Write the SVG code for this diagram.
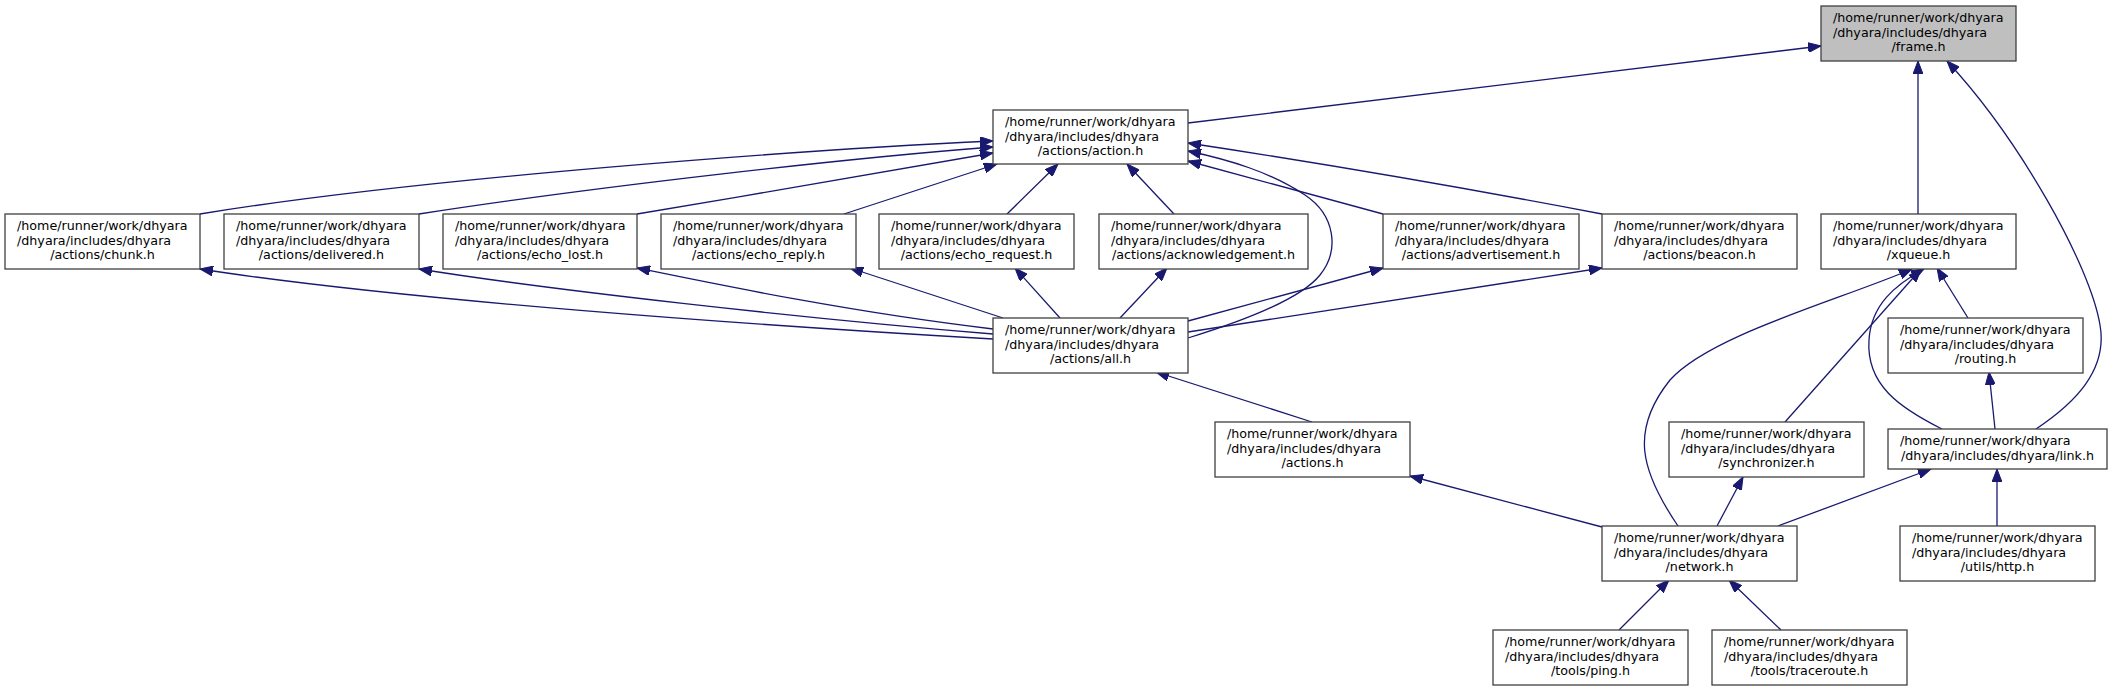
<svg xmlns="http://www.w3.org/2000/svg" width="2112" height="691" viewBox="0 0 2112 691">
<style>
.n rect{fill:#ffffff;stroke:#404040;stroke-width:1.3}
.g rect{fill:#bfbfbf;stroke:#404040;stroke-width:1.3}
text{font-family:"DejaVu Sans",sans-serif;font-size:12.7px;fill:#000000}
.m{text-anchor:middle}
#edges path{fill:none;stroke:#191970;stroke-width:1.3;marker-end:url(#ah)}
</style>
<defs>
<marker id="ah" markerUnits="userSpaceOnUse" markerWidth="14" markerHeight="10" refX="13" refY="5" orient="auto">
<path d="M0,0 L13,5 L0,10 z" fill="#191970" stroke="#191970" stroke-width="1"/>
</marker>
</defs>
<rect width="2112" height="691" fill="#ffffff"/>
<g id="edges">
<path d="M1188,123 L1821,46"/>
<path d="M1918,214 L1918,61"/>
<path d="M2036,429 C2075,403 2108,370 2100,325 C2090,265 2020,140 1947,61"/>
<path d="M200,214 C420,178 800,150 993,141"/>
<path d="M419,214 C600,186 850,158 993,147"/>
<path d="M637,214 C760,194 900,168 993,153"/>
<path d="M844,214 L997,164"/>
<path d="M1007,214 L1058,164"/>
<path d="M1174,214 L1127,164"/>
<path d="M1383,214 L1188,161"/>
<path d="M1602,214 C1450,185 1300,160 1188,143"/>
<path d="M1188,338 C1240,322 1300,300 1320,275 C1340,250 1335,215 1305,195 C1270,172 1230,160 1188,151"/>
<path d="M993,339 C750,325 400,300 200,269"/>
<path d="M993,334 C800,318 550,290 419,269"/>
<path d="M993,329 C850,312 720,285 637,268"/>
<path d="M1003,318 L850,268"/>
<path d="M1060,318 L1015,268"/>
<path d="M1120,318 L1167,268"/>
<path d="M1188,321 L1383,268"/>
<path d="M1188,332 L1602,268"/>
<path d="M1312,422 L1156,372"/>
<path d="M1602,527 L1410,476"/>
<path d="M1678,526 C1640,470 1630,430 1670,380 C1710,335 1840,300 1912,269"/>
<path d="M1785,422 L1921,269"/>
<path d="M1942,429 C1900,408 1866,385 1869,340 C1871,305 1895,285 1924,269"/>
<path d="M1968,318 L1937,268"/>
<path d="M1995,429 L1989,372"/>
<path d="M1717,526 L1743,477"/>
<path d="M1778,526 L1931,469"/>
<path d="M1997,526 L1997,469"/>
<path d="M1619,630 L1669,580"/>
<path d="M1781,630 L1729,580"/>
</g>
<g id="frame" class="g"><rect x="1821" y="6" width="195" height="55"/><text x="1833" y="22">/home/runner/work/dhyara</text><text x="1833" y="36.5">/dhyara/includes/dhyara</text><text class="m" x="1918.5" y="51">/frame.h</text></g>
<g id="action" class="n"><rect x="993" y="110" width="195" height="54"/><text x="1005" y="126">/home/runner/work/dhyara</text><text x="1005" y="140.5">/dhyara/includes/dhyara</text><text class="m" x="1090.5" y="155">/actions/action.h</text></g>
<g id="chunk" class="n"><rect x="5" y="214" width="195" height="55"/><text x="17" y="230">/home/runner/work/dhyara</text><text x="17" y="244.5">/dhyara/includes/dhyara</text><text class="m" x="102.5" y="259">/actions/chunk.h</text></g>
<g id="delivered" class="n"><rect x="224" y="214" width="195" height="55"/><text x="236" y="230">/home/runner/work/dhyara</text><text x="236" y="244.5">/dhyara/includes/dhyara</text><text class="m" x="321.5" y="259">/actions/delivered.h</text></g>
<g id="echo_lost" class="n"><rect x="443" y="214" width="194" height="55"/><text x="455" y="230">/home/runner/work/dhyara</text><text x="455" y="244.5">/dhyara/includes/dhyara</text><text class="m" x="540" y="259">/actions/echo_lost.h</text></g>
<g id="echo_reply" class="n"><rect x="661" y="214" width="195" height="55"/><text x="673" y="230">/home/runner/work/dhyara</text><text x="673" y="244.5">/dhyara/includes/dhyara</text><text class="m" x="758.5" y="259">/actions/echo_reply.h</text></g>
<g id="echo_request" class="n"><rect x="879" y="214" width="195" height="55"/><text x="891" y="230">/home/runner/work/dhyara</text><text x="891" y="244.5">/dhyara/includes/dhyara</text><text class="m" x="976.5" y="259">/actions/echo_request.h</text></g>
<g id="acknowledgement" class="n"><rect x="1099" y="214" width="209" height="55"/><text x="1111" y="230">/home/runner/work/dhyara</text><text x="1111" y="244.5">/dhyara/includes/dhyara</text><text class="m" x="1203.5" y="259">/actions/acknowledgement.h</text></g>
<g id="advertisement" class="n"><rect x="1383" y="214" width="196" height="55"/><text x="1395" y="230">/home/runner/work/dhyara</text><text x="1395" y="244.5">/dhyara/includes/dhyara</text><text class="m" x="1481" y="259">/actions/advertisement.h</text></g>
<g id="beacon" class="n"><rect x="1602" y="214" width="195" height="55"/><text x="1614" y="230">/home/runner/work/dhyara</text><text x="1614" y="244.5">/dhyara/includes/dhyara</text><text class="m" x="1699.5" y="259">/actions/beacon.h</text></g>
<g id="xqueue" class="n"><rect x="1821" y="214" width="195" height="55"/><text x="1833" y="230">/home/runner/work/dhyara</text><text x="1833" y="244.5">/dhyara/includes/dhyara</text><text class="m" x="1918.5" y="259">/xqueue.h</text></g>
<g id="all" class="n"><rect x="993" y="318" width="195" height="55"/><text x="1005" y="334">/home/runner/work/dhyara</text><text x="1005" y="348.5">/dhyara/includes/dhyara</text><text class="m" x="1090.5" y="363">/actions/all.h</text></g>
<g id="routing" class="n"><rect x="1888" y="318" width="195" height="55"/><text x="1900" y="334">/home/runner/work/dhyara</text><text x="1900" y="348.5">/dhyara/includes/dhyara</text><text class="m" x="1985.5" y="363">/routing.h</text></g>
<g id="actions" class="n"><rect x="1215" y="422" width="195" height="55"/><text x="1227" y="438">/home/runner/work/dhyara</text><text x="1227" y="452.5">/dhyara/includes/dhyara</text><text class="m" x="1312.5" y="467">/actions.h</text></g>
<g id="synchronizer" class="n"><rect x="1669" y="422" width="195" height="55"/><text x="1681" y="438">/home/runner/work/dhyara</text><text x="1681" y="452.5">/dhyara/includes/dhyara</text><text class="m" x="1766.5" y="467">/synchronizer.h</text></g>
<g id="link" class="n"><rect x="1888" y="429" width="219" height="40"/><text x="1900" y="445">/home/runner/work/dhyara</text><text class="m" x="1997.5" y="460">/dhyara/includes/dhyara/link.h</text></g>
<g id="network" class="n"><rect x="1602" y="526" width="195" height="55"/><text x="1614" y="542">/home/runner/work/dhyara</text><text x="1614" y="556.5">/dhyara/includes/dhyara</text><text class="m" x="1699.5" y="571">/network.h</text></g>
<g id="http" class="n"><rect x="1900" y="526" width="195" height="55"/><text x="1912" y="542">/home/runner/work/dhyara</text><text x="1912" y="556.5">/dhyara/includes/dhyara</text><text class="m" x="1997.5" y="571">/utils/http.h</text></g>
<g id="ping" class="n"><rect x="1493" y="630" width="195" height="55"/><text x="1505" y="646">/home/runner/work/dhyara</text><text x="1505" y="660.5">/dhyara/includes/dhyara</text><text class="m" x="1590.5" y="675">/tools/ping.h</text></g>
<g id="traceroute" class="n"><rect x="1712" y="630" width="195" height="55"/><text x="1724" y="646">/home/runner/work/dhyara</text><text x="1724" y="660.5">/dhyara/includes/dhyara</text><text class="m" x="1809.5" y="675">/tools/traceroute.h</text></g>
</svg>
